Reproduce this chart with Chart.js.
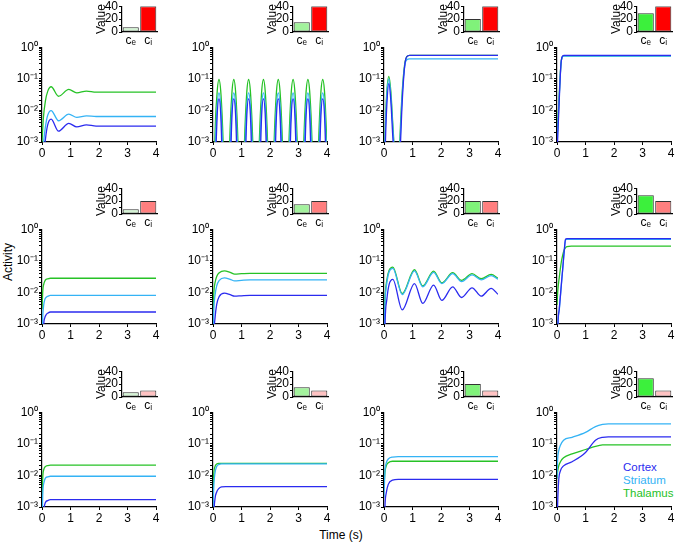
<!DOCTYPE html>
<html>
<head>
<meta charset="utf-8">
<script src="https://cdn.jsdelivr.net/npm/chart.js@4.4.1/dist/chart.umd.min.js"></script>
<style>
  body { margin: 0; background: #fff; width: 675px; height: 544px; position: relative; overflow: hidden;
         font-family: 'Liberation Sans', Arial, sans-serif; }
  .box { position: absolute; }
  .lbl { position: absolute; font-size: 12px; line-height: 13px; color: #000; white-space: nowrap; }
  .leg { font-size: 11.5px; }
</style>
</head>
<body>
<div class="lbl" style="left:8px;top:262px;transform:translate(-50%,-50%) rotate(-90deg)">Activity</div>
<div class="lbl" style="left:341px;top:535px;transform:translate(-50%,-50%)">Time (s)</div>
<div class="lbl leg" style="left:623px;top:461px;color:#2b2bef">Cortex</div>
<div class="lbl leg" style="left:623px;top:474px;color:#34b3f5">Striatum</div>
<div class="lbl leg" style="left:623px;top:487px;color:#26c226">Thalamus</div>
<script>
const seriesNames = ['Cortex', 'Striatum', 'Thalamus'];
const seriesColors = ['#2b2bef', '#34b3f5', '#26c226'];
const yTickValues = [0.001, 0.01, 0.1, 1];
const yTickLabels = ['10⁻³', '10⁻²', '10⁻¹', '10⁰'];

// time points per panel (row by row, left to right)
const times = [
  [0, 0.05, 0.12, 0.2, 0.32, 0.58, 0.94, 1.22, 1.56, 1.9, 2.3, 4],
  [0, 0.065, 0.14, 0.21, 0.28, 0.355, 0.47, 0.585, 0.66, 0.73, 0.8, 0.875, 0.99, 1.105, 1.18, 1.25, 1.32, 1.395, 1.51,
   1.625, 1.7, 1.77, 1.84, 1.915, 2.03, 2.145, 2.22, 2.29, 2.36, 2.435, 2.55, 2.665, 2.74, 2.81, 2.88, 2.955, 3.07,
   3.185, 3.26, 3.33, 3.4, 3.475, 3.59, 3.705, 3.78, 3.85, 3.92, 4],
  [0, 0.05, 0.1, 0.17, 0.24, 0.3, 0.36, 0.45, 0.55, 0.62, 0.68, 0.74, 0.8, 0.9, 4],
  [0, 0.02, 0.06, 0.1, 0.14, 0.18, 0.24, 4],
  [0, 0.03, 0.06, 0.1, 0.15, 0.2, 0.3, 0.45, 4],
  [0, 0.03, 0.07, 0.13, 0.22, 0.4, 0.6, 0.76, 1.0, 1.3, 4],
  [0, 0.04, 0.1, 0.18, 0.31, 0.64, 1.07, 1.36, 1.74, 2.03, 2.41, 2.72, 3.09, 3.41, 3.76, 4],
  [0, 0.03, 0.08, 0.15, 0.2, 0.25, 0.3, 0.35, 0.5, 4],
  [0, 0.03, 0.07, 0.12, 0.2, 0.3, 4],
  [0, 0.03, 0.07, 0.13, 0.2, 0.3, 0.45, 4],
  [0, 0.03, 0.08, 0.15, 0.3, 0.5, 4],
  [0, 0.02, 0.06, 0.12, 0.23, 0.53, 1.0, 1.35, 1.6, 1.8, 4]
];

const cortex = [
  [0.00001, 0.0002, 0.0012, 0.0035, 0.0053, 0.0022, 0.0039, 0.003, 0.0035, 0.0032, 0.0032, 0.0032],
  [1e-9, 0.000015, 0.005, 0.023, 0.005, 0.000015, 1e-9, 0.000015, 0.005, 0.023, 0.005, 0.000015, 1e-9,
   0.000015, 0.005, 0.023, 0.005, 0.000015, 1e-9, 0.000015, 0.005, 0.023, 0.005, 0.000015, 1e-9,
   0.000015, 0.005, 0.023, 0.005, 0.000015, 1e-9, 0.000015, 0.005, 0.023, 0.005, 0.000015, 1e-9,
   0.000015, 0.005, 0.023, 0.005, 0.000015, 1e-9, 0.000015, 0.005, 0.023, 0.005, 0.00001],
  [0.00001, 0.001, 0.015, 0.07, 0.02, 0.002, 0.0002, 1e-7, 0.0002, 0.008, 0.08, 0.32, 0.5, 0.55, 0.55],
  [0.0002, 0.001, 0.008, 0.06, 0.3, 0.5, 0.55, 0.55],
  [0.00001, 0.0002, 0.001, 0.0016, 0.002, 0.0022, 0.0024, 0.0024, 0.0024],
  [0.00001, 0.0004, 0.0015, 0.0042, 0.0075, 0.0095, 0.0085, 0.0076, 0.0078, 0.008, 0.008],
  [0.00001, 0.0012, 0.006, 0.018, 0.026, 0.0028, 0.019, 0.0045, 0.017, 0.0056, 0.015, 0.0069, 0.014, 0.0076, 0.0135, 0.0087],
  [0.00001, 0.0008, 0.003, 0.017, 0.056, 0.19, 0.48, 0.5, 0.5, 0.5],
  [0.00001, 0.0003, 0.0009, 0.0014, 0.0016, 0.0017, 0.0017],
  [0.00001, 0.0005, 0.0018, 0.003, 0.0038, 0.0043, 0.0044, 0.0044],
  [0.00001, 0.0008, 0.0028, 0.0052, 0.0071, 0.0075, 0.0075],
  [0.0001, 0.001, 0.007, 0.014, 0.02, 0.027, 0.053, 0.13, 0.16, 0.165, 0.165]
];

const striatum = [
  [0.0001, 0.0008, 0.003, 0.007, 0.0099, 0.0047, 0.0076, 0.006, 0.0067, 0.0064, 0.0064, 0.0064],
  [1e-8, 0.0002, 0.011, 0.036, 0.011, 0.0002, 1e-8, 0.0002, 0.011, 0.036, 0.011, 0.0002, 1e-8,
   0.0002, 0.011, 0.036, 0.011, 0.0002, 1e-8, 0.0002, 0.011, 0.036, 0.011, 0.0002, 1e-8,
   0.0002, 0.011, 0.036, 0.011, 0.0002, 1e-8, 0.0002, 0.011, 0.036, 0.011, 0.0002, 1e-8,
   0.0002, 0.011, 0.036, 0.011, 0.0002, 1e-8, 0.0002, 0.011, 0.036, 0.011, 0.00015],
  [0.0001, 0.003, 0.03, 0.1, 0.03, 0.004, 0.0004, 1e-6, 0.0005, 0.015, 0.1, 0.3, 0.4, 0.43, 0.43],
  [0.0005, 0.002, 0.012, 0.07, 0.3, 0.47, 0.52, 0.52],
  [0.0005, 0.002, 0.004, 0.006, 0.007, 0.0075, 0.008, 0.008, 0.008],
  [0.0003, 0.003, 0.008, 0.016, 0.024, 0.029, 0.026, 0.023, 0.024, 0.025, 0.025],
  [0.0005, 0.006, 0.02, 0.045, 0.058, 0.0085, 0.048, 0.015, 0.043, 0.019, 0.039, 0.022, 0.036, 0.025, 0.034, 0.026],
  [0.00001, 0.0007, 0.0028, 0.016, 0.052, 0.18, 0.46, 0.48, 0.48, 0.48],
  [0.0003, 0.003, 0.006, 0.0082, 0.009, 0.0094, 0.0094],
  [0.0008, 0.005, 0.012, 0.019, 0.022, 0.023, 0.023, 0.023],
  [0.002, 0.012, 0.025, 0.033, 0.038, 0.039, 0.039],
  [0.008, 0.03, 0.06, 0.09, 0.13, 0.16, 0.23, 0.35, 0.41, 0.43, 0.43]
];

const thalamus = [
  [0.001, 0.006, 0.02, 0.04, 0.056, 0.028, 0.046, 0.036, 0.041, 0.038, 0.038, 0.038],
  [1e-7, 0.001, 0.032, 0.095, 0.032, 0.001, 1e-7, 0.001, 0.032, 0.095, 0.032, 0.001, 1e-7,
   0.001, 0.032, 0.095, 0.032, 0.001, 1e-7, 0.001, 0.032, 0.095, 0.032, 0.001, 1e-7,
   0.001, 0.032, 0.095, 0.032, 0.001, 1e-7, 0.001, 0.032, 0.095, 0.032, 0.001, 1e-7,
   0.001, 0.032, 0.095, 0.032, 0.001, 1e-7, 0.001, 0.032, 0.095, 0.032, 0.0008],
  [0.0001, 0.004, 0.04, 0.12, 0.04, 0.005, 0.0005, 1e-6, 0.0008, 0.02, 0.12, 0.35, 0.5, 0.55, 0.55],
  [0.0008, 0.003, 0.015, 0.08, 0.3, 0.48, 0.53, 0.53],
  [0.003, 0.012, 0.018, 0.023, 0.026, 0.027, 0.028, 0.028, 0.028],
  [0.002, 0.01, 0.02, 0.032, 0.042, 0.048, 0.043, 0.038, 0.039, 0.04, 0.04],
  [0.0008, 0.008, 0.025, 0.05, 0.063, 0.0092, 0.052, 0.016, 0.047, 0.02, 0.042, 0.024, 0.039, 0.027, 0.037, 0.028],
  [0.004, 0.012, 0.03, 0.09, 0.15, 0.22, 0.26, 0.28, 0.29, 0.29],
  [0.002, 0.01, 0.016, 0.019, 0.0205, 0.021, 0.021],
  [0.003, 0.012, 0.019, 0.023, 0.024, 0.024, 0.024, 0.024],
  [0.004, 0.012, 0.02, 0.025, 0.028, 0.028, 0.028],
  [0.008, 0.013, 0.02, 0.027, 0.036, 0.048, 0.066, 0.083, 0.092, 0.093, 0.093]
];

// inset bars: ce per column, ci per row
const barLabels = ['cₑ', 'cᵢ'];
const ceValues = [7.5, 15, 20, 29];
const ciValues = [40, 20, 10];
const ceColors = ['#d3f3d3', '#a3f29d', '#80f27a', '#3cf03c'];
const ciColors = ['#ff0000', '#ff7f7f', '#ffc2c2'];

// layout
const colX = [42, 213, 384, 557];
const rowTop = [47, 229, 412];
const plotW = 114, plotH = 95;

Chart.defaults.font.family = "'Liberation Sans', Arial, sans-serif";
Chart.defaults.font.size = 11;
Chart.defaults.color = '#000';
Chart.defaults.animation = false;

function addCanvas(left, top, w, h) {
  const div = document.createElement('div');
  div.className = 'box';
  div.style.cssText = `left:${left}px;top:${top}px;width:${w}px;height:${h}px`;
  const c = document.createElement('canvas');
  c.width = w;
  c.height = h;
  c.style.width = w + 'px';
  c.style.height = h + 'px';
  div.appendChild(c);
  document.body.appendChild(div);
  return c;
}

function drawPanel(i) {
  const r = Math.floor(i / 4), col = i % 4;
  const canvas = addCanvas(colX[col] - 40, rowTop[r] - 8, 40 + plotW + 8, 8 + plotH + 20);
  const datasets = [cortex, striatum, thalamus].map((s, k) => ({
    label: seriesNames[k],
    data: times[i].map((t, j) => ({ x: t, y: s[i][j] })),
    borderColor: seriesColors[k],
    borderWidth: 1.3,
    pointRadius: 0,
    cubicInterpolationMode: 'monotone',
    fill: false
  }));
  new Chart(canvas, {
    type: 'line',
    data: { datasets },
    options: {
      responsive: false,
      events: [],
      layout: { padding: { left: 0, right: 8, top: 8, bottom: 0 } },
      plugins: { legend: { display: false }, tooltip: { enabled: false } },
      scales: {
        x: {
          type: 'linear', min: 0, max: 4,
          afterFit: s => { s.height = 20; },
          ticks: { stepSize: 1, padding: 1, maxRotation: 0, font: { size: 12 } },
          grid: { drawOnChartArea: false, tickLength: 3, color: '#000' },
          border: { color: '#000', width: 1.2 }
        },
        y: {
          type: 'logarithmic', min: 0.001, max: 1,
          afterFit: s => { s.width = 40; },
          ticks: {
            autoSkip: false, padding: 1, font: { size: 12 },
            callback: v => {
              const k = yTickValues.findIndex(t => Math.abs(v / t - 1) < 1e-6);
              return k < 0 ? '' : yTickLabels[k];
            }
          },
          grid: { drawOnChartArea: false, tickLength: 3, color: '#000' },
          border: { color: '#000', width: 1.2 }
        }
      }
    }
  });
}

function drawInset(i) {
  const r = Math.floor(i / 4), col = i % 4;
  const canvas = addCanvas(colX[col] + 80 - 28, rowTop[r] - 42 - 7, 28 + 35 + 5, 7 + 27 + 18);
  new Chart(canvas, {
    type: 'bar',
    data: {
      labels: barLabels,
      datasets: [{
        data: [ceValues[col], ciValues[r]],
        backgroundColor: [ceColors[col], ciColors[r]],
        borderColor: '#333',
        borderWidth: 1,
        borderSkipped: false,
        barPercentage: 0.92,
        categoryPercentage: 1
      }]
    },
    options: {
      responsive: false,
      events: [],
      layout: { padding: { left: 0, right: 5, top: 7, bottom: 0 } },
      plugins: { legend: { display: false }, tooltip: { enabled: false } },
      scales: {
        x: {
          afterFit: s => { s.height = 18; },
          grid: { display: false, drawTicks: false },
          ticks: { padding: 1, font: { size: 12 } },
          border: { color: '#000', width: 1.2 }
        },
        y: {
          min: 0, max: 40,
          afterFit: s => { s.width = 28; },
          ticks: { autoSkip: false, stepSize: 10, padding: 1, font: { size: 12 },
                   callback: v => (v % 20 === 0 ? String(v) : '') },
          grid: { drawOnChartArea: false, tickLength: 3, color: '#000' },
          border: { color: '#000', width: 1.2 },
          title: { display: true, text: 'Value', padding: 0, font: { size: 12 } }
        }
      }
    }
  });
}

for (let i = 0; i < 12; i++) {
  drawPanel(i);
  drawInset(i);
}
</script>
</body>
</html>
